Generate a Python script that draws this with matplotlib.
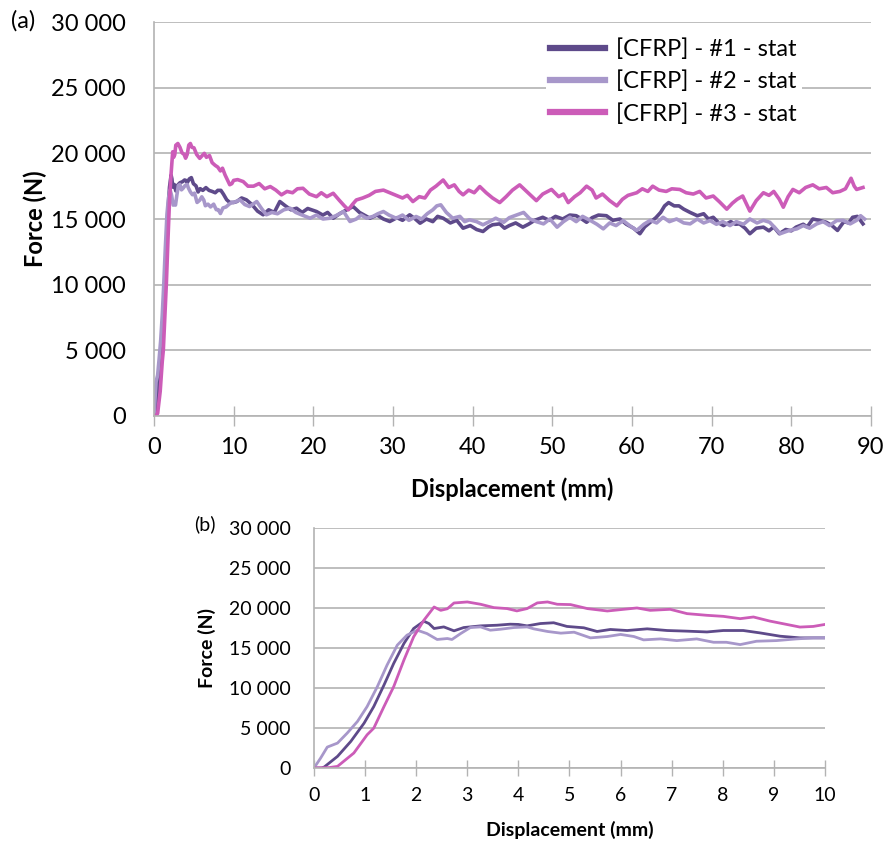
import matplotlib
matplotlib.use("Agg")
import matplotlib.pyplot as plt
from matplotlib.ticker import FuncFormatter, MultipleLocator

plt.rcParams["font.family"] = ["Lato", "DejaVu Sans"]

LABELS = ["[CFRP] - #1 - stat", "[CFRP] - #2 - stat", "[CFRP] - #3 - stat"]
COLORS = ["#5e4a8a", "#a797ca", "#cc5cb8"]

# specimen #1
disp_1 = [0, 0.15, 0.2, 0.46, 0.72, 0.98, 1.17, 1.37, 1.56, 1.76, 1.95, 2.15, 2.25,
          2.35, 2.54, 2.74, 2.93, 3.26, 3.58, 3.84, 4.0, 4.17, 4.43, 4.69, 4.95, 5.28,
          5.54, 5.8, 6.13, 6.52, 6.91, 7.3, 7.69, 8.01, 8.4, 8.73, 9.12, 9.51, 10.0,
          10.4, 11.0, 11.6, 12.3, 13.0, 13.7, 14.4, 15.1, 15.8, 16.5, 17.2, 17.9,
          18.6, 19.3, 20.4, 21.2, 21.8, 22.5, 23.3, 24.2, 25.0, 25.8, 26.4, 27.1,
          28.0, 28.8, 29.6, 30.5, 31.2, 32.1, 32.8, 33.4, 34.2, 35.0, 35.6, 36.3,
          37.2, 38.0, 38.8, 39.7, 40.5, 41.3, 42.0, 42.5, 43.4, 44.0, 44.6, 45.4,
          46.3, 47.0, 47.8, 48.8, 49.6, 50.4, 51.3, 52.2, 53.0, 53.7, 54.3, 55.0,
          55.8, 56.8, 57.6, 58.5, 59.3, 60.2, 61.0, 61.6, 62.3, 63.0, 63.6, 64.1,
          64.6, 65.3, 65.9, 66.5, 67.3, 68.2, 69.0, 69.6, 70.2, 70.9, 71.5, 72.4,
          73.0, 73.5, 74.2, 74.8, 75.6, 76.5, 77.2, 77.8, 78.5, 79.3, 80.0, 80.6,
          81.5, 82.0, 82.7, 83.5, 84.4, 85.1, 85.8, 86.6, 87.2, 87.7, 88.3, 89.0]
force_1 = [0, 0, 120, 1450, 3320, 5600, 7680, 10370, 13070, 15560, 17430, 18340, 18050,
           17430, 17630, 17140, 17550, 17760, 17840, 17970, 17940, 17760, 18050, 18150,
           17690, 17520, 17060, 17310, 17180, 17390, 17180, 17100, 17000, 17180, 17180,
           16880, 16470, 16260, 16260,
           16330, 16600, 16460, 16100, 15600, 15320, 15700, 15500, 16330, 16000, 15700,
           15820, 15500, 15800, 15570, 15300, 15500, 15060, 15400, 15700, 15950, 15500,
           15300, 15060, 15300, 15000, 14810, 15100, 14900, 15320, 15000, 14680, 15000,
           14800, 15200, 15060, 14700, 14900, 14300, 14500, 14200, 14050, 14400, 14560,
           14630, 14300, 14500, 14700, 14380, 14600, 14900, 15130, 14900, 15200, 15000,
           15300, 15250, 15000, 14750, 15100, 15300, 15250, 14900, 15000, 14600, 14300,
           13880, 14400, 14750, 15100, 15500, 16000, 16250, 16000, 16000, 15750, 15500,
           15250, 15400, 15000, 15130, 14700, 14500, 14800, 14600, 14630, 14300, 13880,
           14300, 14380, 14100, 14400, 13880, 14200, 14100, 14380, 14600, 14400, 15000,
           14900, 14750, 14500, 14130, 14800, 14700, 15130, 15200, 14630]

# specimen #2
disp_2 = [0, 0.13, 0.26, 0.46, 0.65, 0.85, 1.04, 1.24, 1.43, 1.63, 1.82, 2.02, 2.21,
          2.41, 2.61, 2.7, 2.87, 3.06, 3.26, 3.45, 3.65, 3.91, 4.17, 4.3, 4.57, 4.83,
          5.09, 5.41, 5.74, 6.0, 6.26, 6.45, 6.78, 7.1, 7.49, 7.82, 8.07, 8.34, 8.66,
          9.05, 9.44, 9.77, 10.0,
          10.8, 11.4, 12.0, 12.9, 13.5, 14.1, 14.8, 15.5, 16.3, 17.1, 17.8, 18.6,
          19.6, 20.4, 21.2, 22.1, 23.0, 23.8, 24.6, 25.4, 26.0, 26.7, 27.5, 28.1,
          28.8, 29.5, 30.4, 31.2, 32.0, 32.9, 33.6, 34.3, 35.0, 35.5, 36.0, 36.7,
          37.5, 38.4, 39.0, 39.6, 40.5, 41.3, 42.1, 42.9, 43.9, 44.6, 45.5, 46.4,
          47.2, 48.0, 48.9, 49.7, 50.6, 51.4, 52.2, 53.0, 53.8, 54.8, 55.6, 56.4,
          57.2, 58.0, 58.9, 59.7, 60.6, 61.5, 62.3, 63.1, 63.9, 64.7, 65.6, 66.5,
          67.3, 68.2, 69.0, 69.8, 70.6, 71.4, 72.3, 73.1, 74.0, 74.8, 75.7, 76.5,
          77.3, 78.0, 78.6, 79.6, 80.7, 81.5, 82.3, 83.2, 84.0, 84.8, 85.7, 86.5,
          87.4, 88.2, 88.7, 89.2]
force_2 = [0, 1240, 2610, 3110, 4360, 5810, 7680, 10170, 12860, 15350, 16600, 17220,
           16800, 16060, 16180, 16060, 16800, 17550, 17630, 17220, 17340, 17550, 17630,
           17390, 17060, 16850, 16970, 16260, 16430, 16690, 16430, 16010, 16130, 15920,
           16130, 15710, 15710, 15420, 15840, 15920, 16130, 16260, 16260,
           16460, 16100, 15950, 16330, 15800, 15320, 15500, 15400, 15700, 15820, 15500,
           15300, 15060, 15300, 15000, 15060, 15300, 15570, 14810, 15000, 15300, 15060,
           15200, 15400, 15570, 15300, 15060, 15300, 14900, 15190, 15000, 15400, 15700,
           16000, 16080, 15500, 15060, 15200, 14800, 14940, 14800, 14560, 14800, 15060,
           14750, 15100, 15300, 15500, 15000, 14800, 14630, 15000, 14380, 14800, 15130,
           14800, 15200, 14880, 14600, 14250, 14700, 14500, 14880, 14500, 14130, 14600,
           14900, 14700, 15130, 14800, 15000, 14700, 14630, 15000, 14700, 14880, 14600,
           14800, 14500, 14800, 14600, 15000, 14700, 14900, 14750, 14300, 13880, 14100,
           14250, 14500, 14300, 14630, 14800, 14500, 14880, 14900, 14630, 14900, 15250,
           15000]

# specimen #3
disp_3 = [0, 0.3, 0.46, 0.78, 1.04, 1.17, 1.37, 1.56, 1.76, 1.95, 2.15, 2.35, 2.48,
          2.61, 2.74, 3.0, 3.26, 3.52, 3.78, 3.97, 4.17, 4.37, 4.57, 4.76, 5.02, 5.35,
          5.74, 6.0, 6.32, 6.58, 6.97, 7.3, 7.69, 8.01, 8.34, 8.6, 8.92, 9.25, 9.51,
          9.77, 10.0,
          10.5, 11.2, 11.8, 12.5, 13.2, 13.9, 14.6, 15.3, 16.0, 16.7, 17.4, 18.0,
          18.7, 19.5, 20.4, 21.0, 21.7, 22.5, 23.3, 23.9, 24.4, 24.9, 25.4, 26.2,
          27.0, 27.8, 28.8, 29.6, 30.4, 31.2, 31.8, 32.5, 33.3, 34.0, 34.7, 35.4,
          36.3, 37.0, 37.7, 38.3, 38.8, 39.5, 40.2, 40.9, 41.7, 42.5, 43.4, 44.2,
          45.0, 45.9, 46.6, 47.3, 48.0, 48.8, 49.9, 50.8, 51.4, 52.0, 52.8, 53.5,
          54.3, 55.0, 55.5, 56.3, 57.2, 58.1, 58.8, 59.5, 60.6, 61.3, 62.0, 62.6,
          63.4, 64.3, 65.0, 66.0, 66.8, 67.7, 68.5, 69.3, 70.2, 71.0, 71.9, 72.6,
          73.2, 73.9, 74.4, 74.8, 75.6, 76.5, 77.2, 77.8, 78.5, 79.0, 79.6, 80.2,
          81.0, 81.8, 82.7, 83.5, 84.4, 85.2, 86.1, 86.8, 87.5, 87.9, 88.2, 89.0]
force_3 = [0, 50, 200, 1870, 4150, 4980, 7680, 10170, 13490, 16390, 18460, 20120, 19700,
           19900, 20620, 20750, 20460, 20040, 19920, 19630, 19920, 20630, 20750, 20460,
           20420, 19920, 19620, 19790, 20000, 19700, 19830, 19290, 19080, 18950, 18660,
           18870, 18360, 17940, 17610, 17690, 17940,
           18000, 17850, 17500, 17500, 17700, 17300, 17470, 17200, 16840, 17100, 17000,
           17300, 17340, 16900, 16700, 17000, 16700, 16960, 16400, 16000, 15700, 16100,
           16450, 16600, 16800, 17100, 17200, 17000, 16800, 16600, 16800, 16330, 16700,
           16600, 17200, 17500, 17970, 17400, 17600, 17100, 16840, 17200, 17000, 17470,
           17000, 16600, 16250, 16700, 17200, 17600, 17200, 16800, 16400, 16900, 17250,
           16700, 16900, 16250, 16700, 17000, 17500, 17200, 16600, 16900, 16400, 16000,
           16500, 16800, 17000, 17300, 17100, 17500, 17200, 17100, 17300, 17250, 17000,
           16900, 17100, 16600, 16750, 16300, 15750, 16200, 16500, 16750, 16100, 15600,
           16400, 17000, 16800, 17100, 16500, 15900, 16700, 17250, 17000, 17400, 17600,
           17300, 17400, 17000, 17100, 17300, 18100, 17500, 17250, 17400]

DISP = [disp_1, disp_2, disp_3]
FORCE = [force_1, force_2, force_3]

GRID = "#b3b3b3"


def thousands(v, _pos):
    return f"{int(v):,}".replace(",", " ")


def style_axes(ax, fs, tick_len):
    ax.set_ylim(0, 30000)
    ax.yaxis.set_major_locator(MultipleLocator(5000))
    ax.yaxis.set_major_formatter(FuncFormatter(thousands))
    ax.grid(axis="y", color=GRID, linewidth=1.2)
    ax.set_axisbelow(True)
    for side in ("top", "right"):
        ax.spines[side].set_visible(False)
    for side in ("left", "bottom"):
        ax.spines[side].set_color(GRID)
        ax.spines[side].set_linewidth(1.2)
    ax.tick_params(axis="y", length=0, labelsize=fs, pad=fs * 1.2)
    ax.tick_params(axis="x", direction="inout", length=tick_len, color=GRID,
                   width=1.0, labelsize=fs, pad=8)


fig = plt.figure(figsize=(8.89, 8.5), dpi=100)

# (a) full displacement range
ax1 = fig.add_axes([0.1732, 0.5106, 0.8065, 0.4635])
for d, f, c, lab in zip(DISP, FORCE, COLORS, LABELS):
    ax1.plot(d, f, color=c, linewidth=2.6, label=lab)
ax1.set_xlim(0, 90)
ax1.xaxis.set_major_locator(MultipleLocator(10))
style_axes(ax1, 17, 14)
ax1.set_xlabel("Displacement (mm)", fontsize=17, fontweight="bold", labelpad=14)
ax1.set_ylabel("Force (N)", fontsize=17, fontweight="bold", labelpad=3)
leg = ax1.legend(loc="upper right", bbox_to_anchor=(0.92, 1.0), fontsize=17,
                 frameon=True, handlelength=2.3, handletextpad=0.5, labelspacing=0.45,
                 borderpad=0.2)
leg.get_frame().set_facecolor("white")
leg.get_frame().set_edgecolor("none")
leg.get_frame().set_alpha(1)
for line in leg.get_lines():
    line.set_linewidth(4.5)
fig.text(0.012, 0.975, "(a)", fontsize=17, va="center")

# (b) first 10 mm
ax2 = fig.add_axes([0.3532, 0.0965, 0.5748, 0.2824])
for d, f, c in zip(DISP, FORCE, COLORS):
    ax2.plot(d, f, color=c, linewidth=2.0)
ax2.set_xlim(0, 10)
ax2.xaxis.set_major_locator(MultipleLocator(1))
style_axes(ax2, 14, 12)
ax2.set_xlabel("Displacement (mm)", fontsize=14, fontweight="bold", labelpad=12)
ax2.set_ylabel("Force (N)", fontsize=14, fontweight="bold", labelpad=9)
fig.text(0.218, 0.383, "(b)", fontsize=14, va="center")

fig.savefig("out.png", dpi=100)
